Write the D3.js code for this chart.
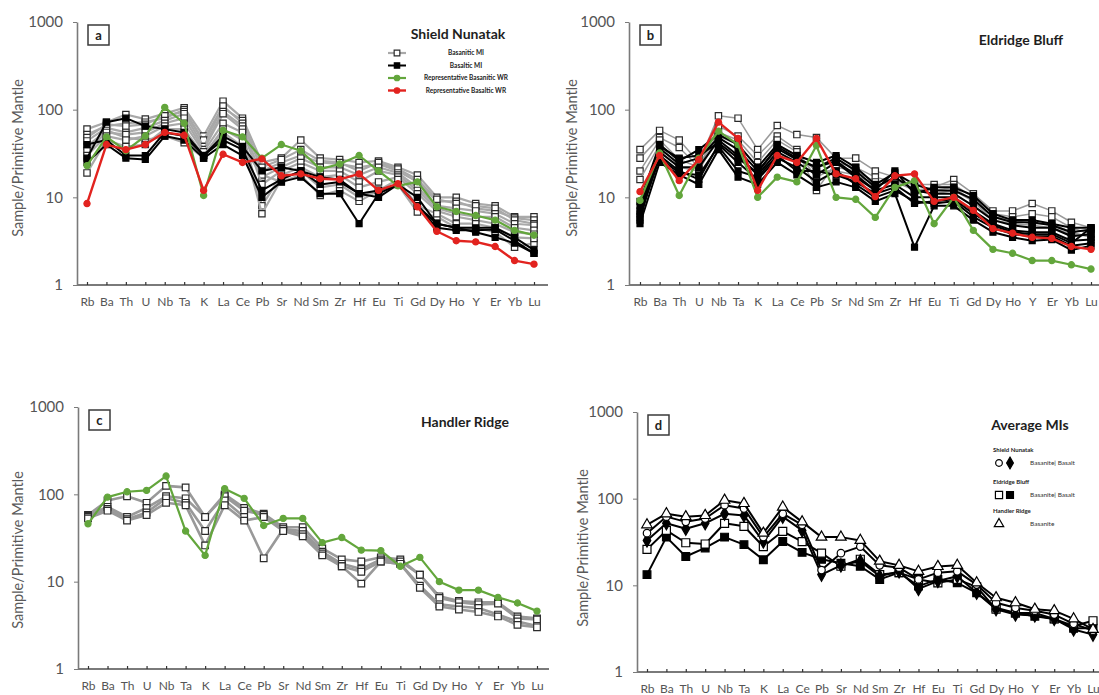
<!DOCTYPE html>
<html>
<head>
<meta charset="utf-8">
<script src="https://cdn.jsdelivr.net/npm/d3@7"></script>
<style>
  body { margin: 0; background: #fff; }
  text { font-family: Lato, "Open Sans", "Liberation Sans", sans-serif; }
</style>
</head>
<body>
<svg id="fig" width="1099" height="695"></svg>
<script>
// Trace elements, ordered for the primitive-mantle spider diagram
const elements = ["Rb","Ba","Th","U","Nb","Ta","K","La","Ce","Pb","Sr","Nd","Sm","Zr","Hf","Eu","Ti","Gd","Dy","Ho","Y","Er","Yb","Lu"];
const yTicks = [1, 10, 100, 1000];

// (a) Shield Nunatak
const snBasaniticMI = [
  [60,72,88,78,90,105,50,125,80,25,28,45,28,27,25,26,22,18,10,10,8.5,8,6,6],
  [52,65,70,72,80,100,42,105,75,20,25,30,25,24,22,24,20,15,9,9,7.5,7,5.8,5.5],
  [48,68,65,68,85,95,45,110,70,22,27,35,26,25,20,25,21,16,9.5,8.5,8,7.5,5.5,5],
  [44,62,55,62,75,90,38,95,65,17,22,28,22,22,18,22,19,13,8,7.5,7,6.5,5,4.8],
  [38,58,48,45,50,42,28,55,38,18,15,18,10.5,12,9,12,14,6.8,6,4.5,4.5,4,2.7,3],
  [34,55,52,55,70,80,35,90,60,14,20,25,20,20,15,20,18,12,7.5,6.5,6,6,4.5,4.2],
  [30,50,45,50,65,70,33,70,55,8,18,22,17,18,13,15,17,11,7,6,5.5,5,4,3.8],
  [19,45,38,40,60,60,30,60,45,6.5,16,20,13,14,10,12,16,8,6.5,5,5,4.5,3.5,3.4]
];
const snBasalticMI = [
  [25,40,28,27,50,45,28,40,30,10,15,17,11,11,5,11,14,8,4.5,4.2,4.2,4.3,3.2,2.3],
  [28,72,80,65,60,55,30,45,35,12,16,20,14,15,11,12,14,8,5,4.5,4,3.5,3,2.3],
  [40,45,30,30,55,50,30,50,38,20,22,20,17,16,11,10,14,10,5,4.5,4.5,4.5,3.5,2.5]
];
const snBasaniticWR = [23,49,34,50,106,70,10.5,58,49,28,40,34,21,24,30,20,13.5,15,7.8,6.9,6.2,5.5,4.2,3.7];
const snBasalticWR = [8.5,40,35,40,55,51,12,31,25,27.5,17.6,18.5,16.3,16,18.5,12,14.3,7.8,4.1,3.2,3.1,2.75,1.9,1.73];

// (b) Eldridge Bluff
const ebBasaniticMI = [
  [35,58,45,25,85,80,35,66,52,48,28,28,20,17,12,13,16,11,7,7,8.5,7,5.2,4.5],
  [28,48,37,22,65,50,30,50,35,12,25,22,17,15,14,14,14,10,6.5,6,6.5,6,4.5,3.8],
  [20,45,27,22,55,45,25,45,33,17,22,20,15,16,12,12,13,9,6,5.5,5,5,4,3.5],
  [16,40,22,20,50,40,22,40,30,20,20,18,14,15,12,11,12,9,5.5,5,4.8,4.5,3.8,3.6]
];
const ebBasalticMI = [
  [5,25,18,14,35,17,14,25,18,13,15,13,9,11,2.7,8,8,5.5,4,3.5,3.2,3.3,2.5,2.8],
  [6,30,20,16,40,25,16,28,22,15,20,14,10,12,9,8.5,9,6,4.5,3.8,3.6,3.6,2.8,3],
  [7,33,22,22,45,30,18,33,25,18,25,17,12,14,10,10,10,7,5,4.2,4,4,3.2,3.3],
  [8,36,24,28,48,35,20,36,27,22,28,20,13,17,12,11,11,8,5.5,4.8,4.5,4.5,3.6,3.8],
  [9,40,26,35,52,40,22,40,30,25,30,22,14,19,14,12,12,9.5,6,5.2,5.2,4.8,4,4.3],
  [6.5,28,19,18,38,20,17,30,20,20,18,15,11,13,8.5,9,9.5,6.5,4.8,4,3.8,3.8,3,4.5],
  [5.5,38,28,30,42,28,19,38,28,22,26,18,12,20,11,13,13,10.5,6.5,5.5,5.5,5,4.5,4.5]
];
const ebBasaniticWR = [9.2,32,10.5,28,57,40,10,17,15,39,10,9.5,5.9,13,15.5,5,10,4.2,2.55,2.3,1.9,1.9,1.7,1.52];
const ebBasalticWR = [11.6,30,15.5,27,72,47,12,30,25,47,18.5,16.3,10.2,17.6,18.5,9,10,7.1,4.4,3.9,3.5,3.4,2.75,2.55];

// (c) Handler Ridge
const hrBasaniticMI = [
  [58,85,95,80,125,120,55,100,70,60,42,42,24,18,17,19,18,12,6.8,6,5.8,5.8,4,3.8],
  [57,72,55,70,95,90,55,95,65,58,40,38,22,16,14,18,17,12,6.5,5.8,5.5,5.6,3.8,3.7],
  [55,68,52,62,90,80,38,85,55,18.5,40,35,21,15,13,17,16,9,5.5,5.2,5,4.2,3.5,3.1],
  [53,65,50,58,80,75,26,75,50,55,38,33,20,15,9.5,17,16,8.5,5.2,4.8,4.5,4,3.2,3]
];
const hrBasaniticWR = [46,93,107,111,162,38,20,116,90,44,53,53,28,32,23,22.7,15,19,10,8,8,6.6,5.7,4.6];

// (d) Average melt inclusions
const avgSNBasanite = [40,62,54,59,84,77,36,67,50,15,23.5,28,17,16,11.7,14,14.5,10.2,6.3,5.5,5.1,4.6,3.6,3];
const avgSNBasalt   = [33,52,45,52,67,64,32,62,43,13.3,17,19,12.7,14.5,9.1,11.2,12.7,8.2,5.3,4.6,4.5,4.1,3.1,2.7];
const avgEBBasanite = [26,43,31,30,52,48,28,42,32,23.5,16.6,20,13.3,14,11.7,10.7,11.7,9.6,5.3,4.8,4.8,4.1,3.4,3.9];
const avgEBBasalt   = [13.3,36,21.5,27,36,29.5,19.7,32,24,20,18,16.6,11.7,14,9.8,11.7,10.7,8.2,5.5,4.8,4.4,4.1,3.2,3.2];
const avgHRBasanite = [50,67,62,64,96,88,40,80,54,36,36,33,19,17,14.5,16.5,17,10.7,7.2,6.3,5.3,5.1,4.1,3.1];

const svg = d3.select("#fig");
const GREEN = "#63a63c", RED = "#e2231f";

const styles = {
  grayOpen:  { stroke: "#a9a9a9", width: 2.2, symbol: d3.symbolSquare, size: 40, fill: "#fff", mStroke: "#2b2b2b" },
  grayThin:  { stroke: "#9a9a9a", width: 1.5, symbol: d3.symbolSquare, size: 40, fill: "#fff", mStroke: "#2b2b2b" },
  grayHR:    { stroke: "#999999", width: 2.6, symbol: d3.symbolSquare, size: 44, fill: "#fff", mStroke: "#2b2b2b" },
  black:     { stroke: "#000", width: 2, symbol: d3.symbolSquare, size: 36, fill: "#000", mStroke: "#000" },
  green:     { stroke: GREEN, width: 2.2, symbol: d3.symbolCircle, size: 30, fill: GREEN, mStroke: GREEN },
  red:       { stroke: RED, width: 2.4, symbol: d3.symbolCircle, size: 30, fill: RED, mStroke: RED },
  triOpen:   { stroke: "#000", width: 2, symbol: d3.symbolTriangle, size: 48, fill: "#fff", mStroke: "#000" },
  circOpen:  { stroke: "#000", width: 2, symbol: d3.symbolCircle, size: 44, fill: "#fff", mStroke: "#000" },
  diaFill:   { stroke: "#000", width: 2, symbol: d3.symbolDiamond, size: 50, fill: "#000", mStroke: "#000" },
  sqOpen:    { stroke: "#000", width: 2, symbol: d3.symbolSquare, size: 64, fill: "#fff", mStroke: "#000" },
  sqFill:    { stroke: "#000", width: 2, symbol: d3.symbolSquare, size: 60, fill: "#000", mStroke: "#000" }
};

function drawPanel(p) {
  const g = svg.append("g");
  const x = d3.scalePoint().domain(elements).range([p.xFirst, p.xLast]);
  const y = d3.scaleLog().domain([1, 1000]).range([p.yBottom, p.yTop]);

  // y axis
  const ya = g.append("g").attr("transform", `translate(${p.axisX},0)`)
    .call(d3.axisLeft(y).tickValues(yTicks).tickFormat(d3.format("d")).tickSize(4).tickSizeOuter(0).tickPadding(10));
  ya.select(".domain").attr("stroke", "#7a7a7a").attr("stroke-width", 1.6);
  ya.selectAll(".tick line").attr("stroke", "#7a7a7a");
  ya.selectAll(".tick text").attr("fill", "#555").style("font-size", "15px").style("font-family", "Lato, sans-serif");

  // x axis
  g.append("line").attr("x1", p.axisX).attr("x2", p.xEnd).attr("y1", p.yBottom).attr("y2", p.yBottom)
    .attr("stroke", "#7a7a7a").attr("stroke-width", 1.8);
  const xa = g.append("g").attr("transform", `translate(0,${p.yBottom})`)
    .call(d3.axisBottom(x).tickSize(-3).tickSizeOuter(0).tickPadding(12));
  xa.select(".domain").remove();
  xa.selectAll(".tick line").attr("stroke", "#333").attr("stroke-width", 1.2);
  xa.selectAll(".tick text").attr("fill", "#555").style("font-size", "12px").style("font-family", "Lato, sans-serif");

  // y-axis title
  g.append("text").attr("transform", `translate(${p.labelX},${p.labelY}) rotate(-90)`)
    .attr("text-anchor", "middle").attr("dy", "0.35em")
    .attr("fill", "#5a5a5a").style("font-size", "14.5px").text("Sample/Primitive Mantle");

  // panel letter box
  const bx = p.axisX + 11, by = p.yTop + 3;
  g.append("rect").attr("x", bx).attr("y", by).attr("width", 21).attr("height", 20)
    .attr("fill", "#fff").attr("stroke", "#3a3a3a").attr("stroke-width", 1.5);
  g.append("text").attr("x", bx + 10.5).attr("y", by + 14.5).attr("text-anchor", "middle")
    .style("font-size", "13px").style("font-weight", "bold").attr("fill", "#222").text(p.letter);

  // title
  g.append("text").attr("x", p.titleX).attr("y", p.titleY).attr("text-anchor", "middle")
    .style("font-size", "14px").style("font-weight", "bold").attr("fill", "#1e1e1e").text(p.title);

  const line = d3.line().x((d, i) => x(elements[i])).y(d => y(d));
  p.series.forEach(s => {
    const st = styles[s.style];
    s.rows.forEach(vals => {
      const sg = g.append("g");
      sg.append("path").datum(vals).attr("d", line).attr("fill", "none")
        .attr("stroke", st.stroke).attr("stroke-width", st.width).attr("stroke-linejoin", "round");
      sg.selectAll("path.m").data(vals).join("path").attr("class", "m")
        .attr("transform", (d, i) => `translate(${x(elements[i])},${y(d)})`)
        .attr("d", d3.symbol(st.symbol, st.size))
        .attr("fill", st.fill).attr("stroke", st.mStroke).attr("stroke-width", 1.2);
    });
  });
  return g;
}

function legendSample(g, cx, cy, st, half) {
  if (half) g.append("line").attr("x1", cx - half).attr("x2", cx + half).attr("y1", cy).attr("y2", cy)
    .attr("stroke", st.stroke).attr("stroke-width", st.width);
  g.append("path").attr("transform", `translate(${cx},${cy})`)
    .attr("d", d3.symbol(st.symbol, st.size * 0.8))
    .attr("fill", st.fill).attr("stroke", st.mStroke).attr("stroke-width", 1.2);
}

// (a)
const gA = drawPanel({
  letter: "a", title: "Shield Nunatak", titleX: 458, titleY: 39,
  axisX: 77, xFirst: 87, xLast: 534, xEnd: 548, yBottom: 285, yTop: 22, labelX: 18, labelY: 158,
  series: [
    { style: "grayOpen", rows: snBasaniticMI },
    { style: "black", rows: snBasalticMI },
    { style: "green", rows: [snBasaniticWR] },
    { style: "red", rows: [snBasalticWR] }
  ]
});
const legendA = [
  ["grayOpen", "Basanitic MI"],
  ["black", "Basaltic MI"],
  ["green", "Representative Basanitic WR"],
  ["red", "Representative Basaltic WR"]
];
legendA.forEach((d, i) => {
  const cy = 53 + i * 12.5;
  legendSample(gA, 397, cy, styles[d[0]], 9);
  gA.append("text").attr("x", 466).attr("y", cy).attr("dy", "0.35em").attr("text-anchor", "middle")
    .style("font-size", "6.5px").style("font-weight", "bold").attr("fill", "#222").text(d[1]);
});

// (b)
drawPanel({
  letter: "b", title: "Eldridge Bluff", titleX: 1021, titleY: 45,
  axisX: 629, xFirst: 640, xLast: 1091, xEnd: 1099, yBottom: 285, yTop: 22, labelX: 572, labelY: 158,
  series: [
    { style: "grayThin", rows: ebBasaniticMI },
    { style: "black", rows: ebBasalticMI },
    { style: "green", rows: [ebBasaniticWR] },
    { style: "red", rows: [ebBasalticWR] }
  ]
});

// (c)
drawPanel({
  letter: "c", title: "Handler Ridge", titleX: 465, titleY: 427,
  axisX: 78, xFirst: 88, xLast: 537, xEnd: 549, yBottom: 669, yTop: 407, labelX: 18, labelY: 550,
  series: [
    { style: "grayHR", rows: hrBasaniticMI },
    { style: "green", rows: [hrBasaniticWR] }
  ]
});

// (d)
const gD = drawPanel({
  letter: "d", title: "Average MIs", titleX: 1030, titleY: 430,
  axisX: 637, xFirst: 647, xLast: 1093, xEnd: 1099, yBottom: 672, yTop: 412, labelX: 583, labelY: 548,
  series: [
    { style: "sqFill", rows: [avgEBBasalt] },
    { style: "sqOpen", rows: [avgEBBasanite] },
    { style: "diaFill", rows: [avgSNBasalt] },
    { style: "circOpen", rows: [avgSNBasanite] },
    { style: "triOpen", rows: [avgHRBasanite] }
  ]
});
const legendD = [
  { head: "Shield Nunatak", y: 450, marks: ["circOpen", "diaFill"], text: "Basanite| Basalt" },
  { head: "Eldridge Bluff", y: 482, marks: ["sqOpen", "sqFill"], text: "Basanite| Basalt" },
  { head: "Handler Ridge", y: 511, marks: ["triOpen"], text: "Basanite" }
];
legendD.forEach(r => {
  gD.append("text").attr("x", 993).attr("y", r.y).attr("dy", "0.35em")
    .style("font-size", "6px").style("font-weight", "bold").attr("fill", "#222").text(r.head);
  r.marks.forEach((m, i) => legendSample(gD, 999 + i * 11, r.y + 13, styles[m], 0));
  gD.append("text").attr("x", 1030).attr("y", r.y + 13).attr("dy", "0.35em")
    .style("font-size", "6.5px").attr("fill", "#333").text(r.text);
});
</script>
</body>
</html>
